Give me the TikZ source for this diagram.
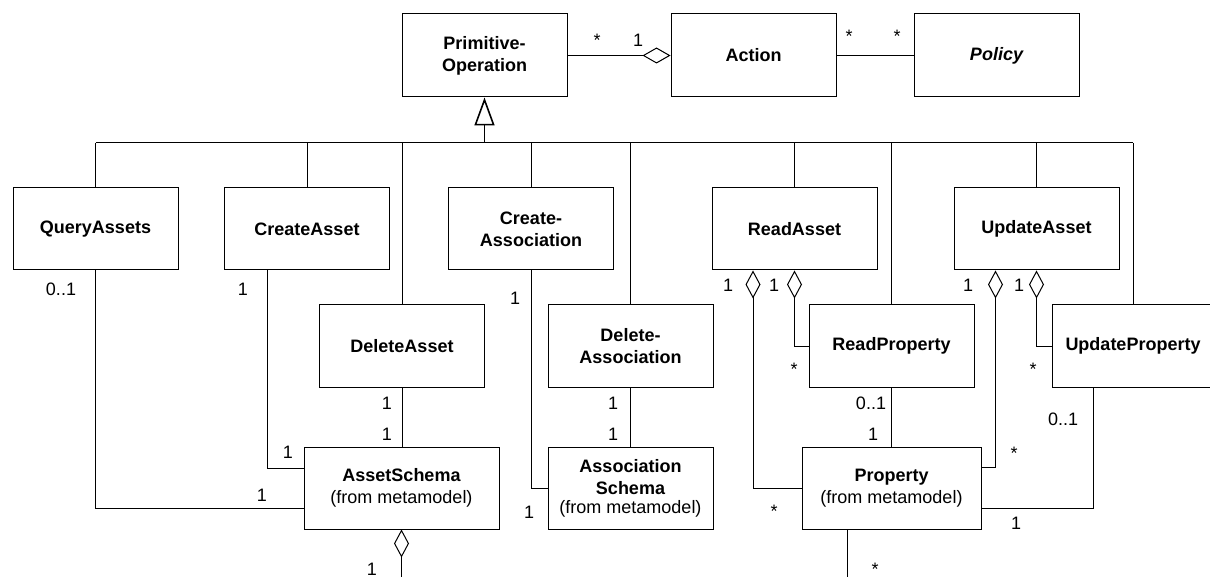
\documentclass[tikz,border=0pt]{standalone}
\usepackage{fontspec}
\setmainfont{Liberation Sans}
\usetikzlibrary{arrows.meta}
\begin{document}
\begin{tikzpicture}[x=1pt,y=-1pt,
  cls/.style={draw, line width=1pt, minimum width=165pt, minimum height=82pt,
    inner sep=0pt, align=center, font=\fontsize{18}{22}\selectfont\bfseries},
  assoc/.style={line width=1pt},
  aggr/.style={line width=1pt, line join=miter, -{Diamond[open,length=28pt,width=15pt]}},
  gen/.style={line width=1.6pt, line join=miter, -{Triangle[open,length=28pt,width=20pt]}},
  mult/.style={anchor=base, inner sep=0pt, font=\fontsize{18}{22}\selectfont},
]
\useasboundingbox (0,0) rectangle (1210,577);

% classes
\node[cls, minimum height=83pt] (prim)   at (484.5,55.5) {Primitive-\\Operation};
\node[cls, minimum height=83pt] (action) at (753.5,55.5) {Action};
\node[cls, minimum height=83pt] (policy) at (996.5,55.5) {\itshape Policy};

\node[cls] (query)       at (95.5,229)   {QueryAssets};
\node[cls] (create)      at (307,229)    {CreateAsset};
\node[cls] (createassoc) at (531,229)    {Create-\\Association};
\node[cls] (readasset)   at (794.5,229)  {ReadAsset};
\node[cls] (updateasset) at (1036.5,229) {UpdateAsset};

\node[cls] (deleteasset) at (402,346)    {DeleteAsset};
\node[cls] (deleteassoc) at (630.5,346)  {Delete-\\Association};
\node[cls] (readprop)    at (891.5,346)  {ReadProperty};
\node[cls, minimum width=162pt] (updateprop) at (1133,346) {UpdateProperty};

\node[cls, minimum width=195pt] (assetschema) at (401.5,488) {AssetSchema\\{\mdseries (from metamodel)}};
\node[cls] (assocschema) at (630.5,488) {Association\\Schema\\[-3pt]{\mdseries (from metamodel)}};
\node[cls, minimum width=179pt] (property) at (891.5,488) {Property\\{\mdseries (from metamodel)}};

% associations at the top
\draw[aggr, -{Diamond[open,length=28pt,width=16pt]}] (prim.east) -- (action.west);
\draw[assoc] (action.east) -- (policy.west);

% generalization bus
\coordinate (bus) at (484.5,143);
\draw[assoc] (query.north |- bus) -- (updateprop.north |- bus);
\foreach \n in {query,create,deleteasset,createassoc,deleteassoc,readasset,readprop,updateasset,updateprop}
  \draw[assoc] (\n.north) -- (\n.north |- bus);
\draw[gen] (bus) -- (prim.south);

% links to the metamodel classes
\draw[assoc] (query.south) |- ([yshift=-20pt]assetschema.west);
\draw[assoc] ([xshift=-40pt]create.south) |- ([yshift=20pt]assetschema.west);
\draw[assoc] (deleteasset.south) -- (deleteasset.south |- assetschema.north);
\draw[assoc] (createassoc.south) |- (assocschema.west);
\draw[assoc] (deleteassoc.south) -- (deleteassoc.south |- assocschema.north);

\draw[aggr] (property.west) -| ([xshift=-41.5pt]readasset.south);
\draw[aggr] (readprop.west) -| (readasset.south);
\draw[assoc] (readprop.south) -- (readprop.south |- property.north);
\draw[aggr] ([yshift=21pt]property.east) -| ([xshift=-41pt]updateasset.south);
\draw[aggr] (updateprop.west) -| (updateasset.south);
\draw[assoc] ([xshift=-40pt]updateprop.south) |- ([yshift=-20pt]property.east);

\coordinate (propdown) at (847,577);
\draw[assoc] (propdown |- property.south) -- (propdown);
\coordinate (schemadown) at (401.5,577);
\draw[aggr] (schemadown) -- (assetschema.south);

% multiplicities
\node[mult] (m1)  at (597,47)   {*};
\node[mult] (m2)  at (638,47)   {1};
\node[mult] (m3)  at (849,43)   {*};
\node[mult] (m4)  at (897,43)   {*};
\node[mult] (m5)  at (61,296)   {0..1};
\node[mult] (m6)  at (243,296)  {1};
\node[mult] (m7)  at (515,305)  {1};
\node[mult] (m8)  at (728,292)  {1};
\node[mult] (m9)  at (774,292)  {1};
\node[mult] (m10) at (968,292)  {1};
\node[mult] (m11) at (1019,292) {1};
\node[mult] (m12) at (794,375)  {*};
\node[mult] (m13) at (1033,375) {*};
\node[mult] (m14) at (387,409)  {1};
\node[mult] (m15) at (387,440)  {1};
\node[mult] (m16) at (288,458)  {1};
\node[mult] (m17) at (262,501)  {1};
\node[mult] (m18) at (372,575)  {1};
\node[mult] (m19) at (613,409)  {1};
\node[mult] (m20) at (613,440)  {1};
\node[mult] (m21) at (529,518)  {1};
\node[mult] (m22) at (871,409)  {0..1};
\node[mult] (m23) at (873,440)  {1};
\node[mult] (m24) at (774,517)  {*};
\node[mult] (m25) at (1014,459) {*};
\node[mult] (m26) at (1063,425) {0..1};
\node[mult] (m27) at (1016,529) {1};
\node[mult] (m28) at (875,575)  {*};
\end{tikzpicture}
\end{document}
